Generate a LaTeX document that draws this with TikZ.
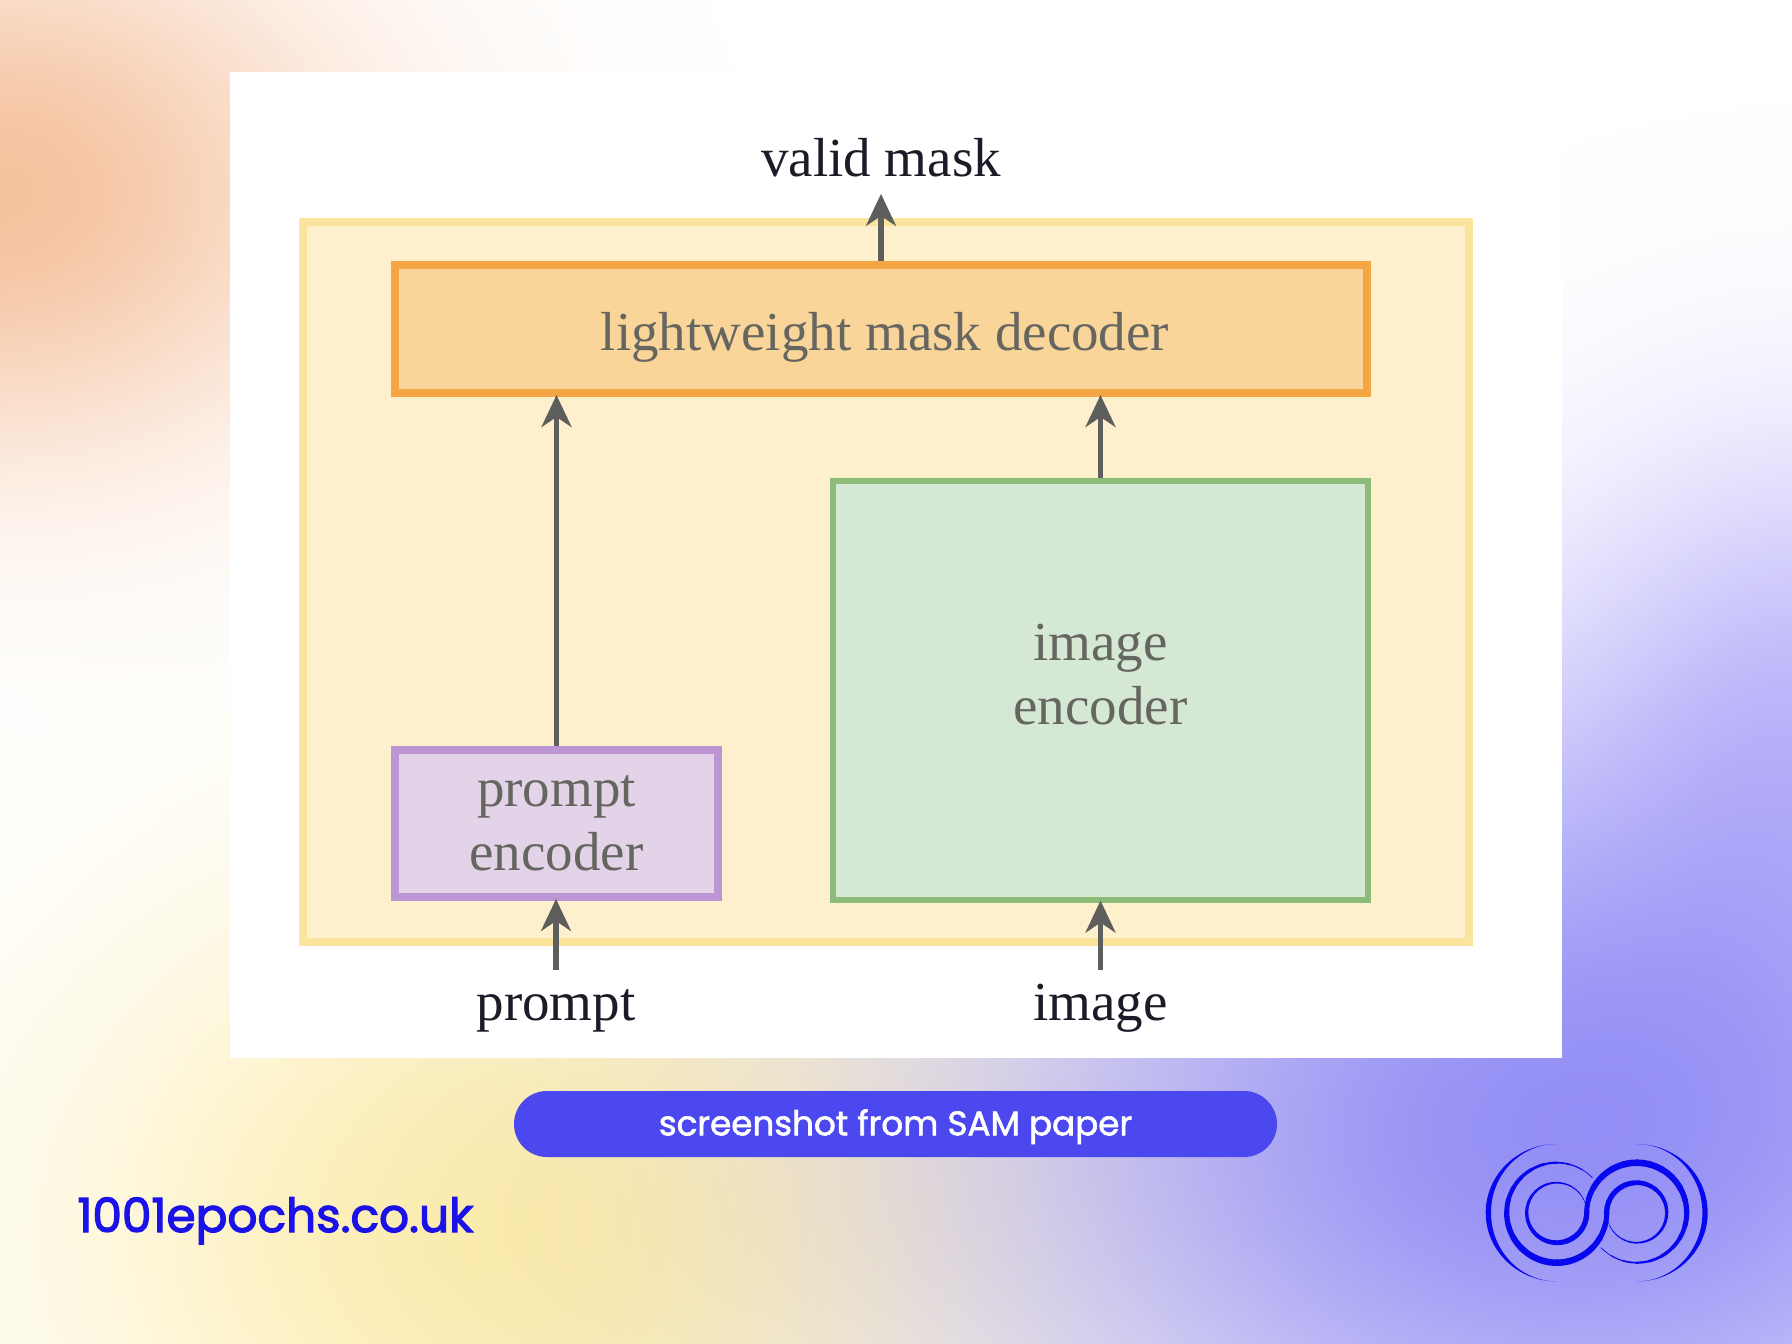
\documentclass[tikz,border=0pt]{standalone}
\usepackage{fontspec}
\setmainfont{Liberation Serif}
\newfontfamily\popmed[FakeBold=1.8]{Poppins}
\newfontfamily\popsemi[FakeBold=2.6]{Poppins}
\usetikzlibrary{arrows.meta}
\definecolor{inkdark}{HTML}{1C1C28}
\definecolor{inkgrey}{HTML}{666660}
\definecolor{arrowgrey}{HTML}{5E5E5C}
\definecolor{outerfill}{HTML}{FEF0CC}
\definecolor{outerline}{HTML}{FDE49C}
\definecolor{decfill}{HTML}{F9D59A}
\definecolor{decline}{HTML}{F5A544}
\definecolor{purfill}{HTML}{E2D3E8}
\definecolor{purline}{HTML}{BB95D4}
\definecolor{grnfill}{HTML}{D5E8D4}
\definecolor{grnline}{HTML}{8DBB78}
\definecolor{pillblue}{HTML}{4B48F0}
\definecolor{brandblue}{HTML}{1A12E8}
\definecolor{logoblue}{HTML}{0808EE}
\pgfdeclarefunctionalshading{meshbg}{\pgfpoint{0bp}{0bp}}{\pgfpoint{896bp}{672bp}}{}{
1 index 0 sub 170 div dup mul 1 index 572 sub 130 div dup mul add neg 2.71828 exch exp
2 index 260 sub 220 div dup mul 2 index 57 sub 170 div dup mul add neg 2.71828 exch exp
3 index 780 sub 290 div dup mul 3 index 107 sub 200 div dup mul add neg 2.71828 exch exp
4 index 896 sub 110 div dup mul 4 index 330 sub 130 div dup mul add neg 2.71828 exch exp
1 4 index 0.04 mul sub 3 index 0.01 mul sub 2 index 0.42 mul sub 1 index 0.15 mul sub
1 5 index 0.24 mul sub 4 index 0.07 mul sub 3 index 0.44 mul sub 2 index 0.17 mul sub
1 6 index 0.38 mul sub 5 index 0.32 mul sub 4 index 0.04 mul sub 3 index 0.01 mul sub
9 3 roll pop pop pop pop pop pop
}
\tikzset{
  flowarrow/.style={draw=arrowgrey,line width=2.6bp,shorten >=-1bp,-{Stealth[length=16bp,width=15bp,inset=5bp]}},
  boxtext/.style={font=\fontsize{27.5bp}{32bp}\selectfont,text=inkgrey,align=center,inner sep=0pt},
  outertext/.style={font=\fontsize{27.5bp}{32bp}\selectfont,text=inkdark,inner sep=0pt,anchor=base},
  logostroke/.style={draw=logoblue,line cap=round},
}
\begin{document}
\begin{tikzpicture}[x=0.5bp,y=0.5bp]
\useasboundingbox (0,-1344) rectangle (1792,0);
\node[inner sep=0pt,anchor=south west] (bg) at (-4,-1348) {\scalebox{1.01}{\pgfuseshading{meshbg}}};
\node[fill=white,inner sep=0pt,minimum width=666bp,minimum height=493bp] (panel) at (896,-565) {};
\node[draw=outerline,fill=outerfill,line width=4bp,inner sep=0pt,minimum width=583bp,minimum height=360bp] (outerbox) at (886,-582) {};
\node[draw=decline,fill=decfill,line width=4bp,boxtext,minimum width=486bp,minimum height=64bp,text height=27.4bp,text depth=6bp] (decoder) at (881,-329) {\hspace*{4bp}lightweight mask decoder};
\node[draw=purline,fill=purfill,line width=4bp,boxtext,minimum width=161.5bp,minimum height=73.5bp] (promptenc) at (556.5,-823.5) {prompt\\encoder};
\node[draw=grnline,fill=grnfill,line width=2.6bp,boxtext,minimum width=267.5bp,minimum height=209.5bp] (imageenc) at (1100.5,-690.5) {image\\encoder\rule[-16bp]{0pt}{0pt}};
\node[outertext,text depth=9.5bp] (validmask) at (881,-176.5) {valid mask};
\node[outertext,text height=25bp,text depth=0pt] (promptlabel) at (556,-1020) {prompt};
\node[outertext,text height=25bp,text depth=0pt] (imagelabel) at (1100.5,-1020) {image};
\draw[flowarrow] (decoder.north) -- (validmask.south);
\draw[flowarrow] (promptenc.north) -- (promptenc.north |- decoder.south);
\draw[flowarrow] (imageenc.north) -- (imageenc.north |- decoder.south);
\draw[flowarrow] (promptlabel.north) -- (promptlabel.north |- promptenc.south);
\draw[flowarrow] (imagelabel.north) -- (imagelabel.north |- imageenc.south);
\node[fill=pillblue,rounded corners=16.5bp,inner sep=0pt,minimum width=381.5bp,minimum height=33bp,text=white,text height=14.9bp,text depth=3.6bp,font=\popmed\fontsize{17.07bp}{19bp}\selectfont] (pill) at (895.5,-1124) {screenshot from SAM paper};
\node[inner sep=0pt,anchor=base west,text=brandblue,font=\popsemi\fontsize{23.5bp}{26bp}\selectfont] (brand) at (77,-1232) {1001epochs.co.uk};
% logo: two identical tapered spirals, the second turned half a circle about the logo's centre
\foreach \rot in {0,180}{
\begin{scope}[rotate around={\rot:(1596.7,-1212.7)}]
  \fill[logoblue] (1556.7,-1144) arc[start angle=90,end angle=270,x radius=71,y radius=68.7] arc[start angle=270,end angle=90,x radius=65.7,y radius=68.7] -- cycle;
  \foreach \a [evaluate=\a as \w using {min(5.2,0.5+(\a-14)*0.0171)}] in {14,26,...,350}
    \draw[logostroke,line width=\w*0.5bp] (1556.7,-1212.7) ++(\a:30) arc[start angle=\a,delta angle=12.5,radius=30];
  \foreach \b/\w in {180/5.0,165/5.4,150/5.8,135/6.1,120/6.3,105/6.5,90/6.5,75/6.4,60/6.2,45/6,30/5.6,15/5.3,0/5,-15/4.4,-30/3.9,-45/3.4,-60/2.8,-75/2.2,-90/1.7,-105/1.2,-120/0.7}
    \draw[logostroke,line width=\w*0.5bp] (1636.7,-1212.7) ++(\b:50) arc[start angle=\b,delta angle=-15.5,radius=50];
\end{scope}}
\end{tikzpicture}
\end{document}
